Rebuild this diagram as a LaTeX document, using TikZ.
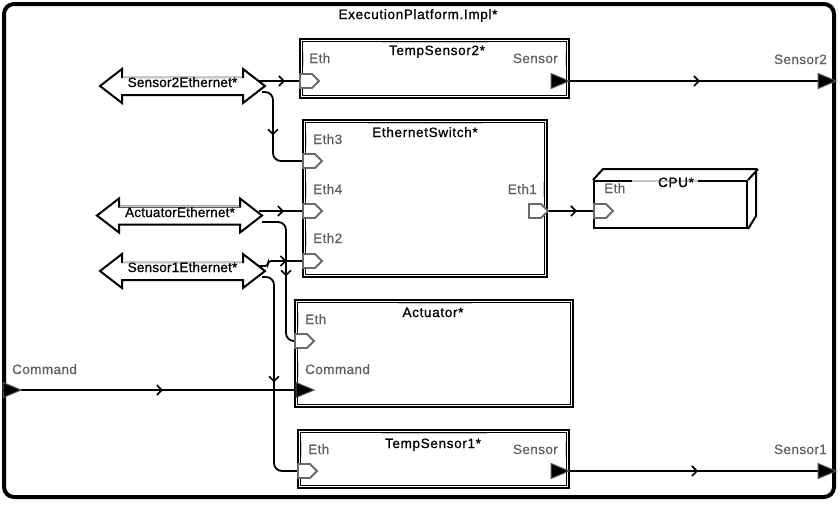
\documentclass[tikz,border=0pt]{standalone}
\usepackage{fontspec}
\setmainfont{Liberation Sans}
\newfontfamily\tfont[FakeBold=0.9,LetterSpace=5]{Liberation Sans}
\newfontfamily\bfont[FakeBold=0.9,LetterSpace=1.5]{Liberation Sans}
\newfontfamily\lfont[FakeBold=0.5,LetterSpace=3]{Liberation Sans}
\usetikzlibrary{arrows.meta,decorations.markings}
\definecolor{lblgray}{HTML}{5F5F5F}
\definecolor{portgray}{HTML}{6A6A6A}
\definecolor{hlgray}{HTML}{C8C8C8}
\definecolor{trigray}{HTML}{555555}
\tikzset{
 frame/.style={draw, line width=4pt, rounded corners=10pt, inner sep=0pt},
 compbox/.style={draw, line width=2.2pt, fill=white, inner sep=0pt},
 innerln/.style={line width=1.2pt},
 ttl/.style={font=\fontsize{13.5}{15}\tfont, text=black, inner sep=0pt, anchor=base},
 blbl/.style={font=\fontsize{13.5}{15}\bfont, text=black, inner sep=0pt, anchor=base},
 plbl/.style={font=\fontsize{13.5}{15}\lfont, text=lblgray, inner sep=0pt},
 ethport/.style={draw=portgray, line width=1.8pt, fill=white, line join=miter},
 outport/.style={fill=black, draw=trigray, line width=1pt, line join=miter},
 conn/.style={line width=1.8pt, rounded corners=8pt},
 busst/.style={draw, line width=2pt, fill=white, line join=miter},
 hl/.style={draw=hlgray, line width=1.6pt},
 midarr/.style={postaction={decorate}, decoration={markings, mark=at position #1 with {\arrow{Straight Barb[length=5pt,width=10pt,line width=1.6pt]}}}},
 ethp/.pic={\draw[ethport] (0,-7) -- (12,-7) -- (19,0) -- (12,7) -- (0,7) -- cycle;},
 ethpin/.pic={\draw[ethport] (-19,-7) -- (-7,-7) -- (0,0) -- (-7,7) -- (-19,7) -- cycle;},
 trip/.pic={\draw[outport] (-18,-7.5) -- (0,0) -- (-18,7.5) -- cycle;},
 busarrow/.pic={\draw[busst] (0,0) -- (22,-17) -- (22,-9) -- (143,-9) -- (143,-17) -- (165,0) -- (143,17) -- (143,9) -- (22,9) -- (22,17) -- cycle;
   \draw[hl] (23,-9) -- (142,-9);}
}
\begin{document}
\begin{tikzpicture}[x=1pt,y=-1pt]
\useasboundingbox (0,0) rectangle (840,504);
\fill[white] (0,0) rectangle (840,504);

% platform frame
\node[frame, minimum width=830pt, minimum height=493pt] (plat) at (419,250.5) {};
\node[ttl] (platt) at (418,19) {ExecutionPlatform.Impl*};

% ---------- components ----------
% TempSensor2
\node[compbox, minimum width=269pt, minimum height=59pt] (ts2) at (434.5,68.5) {};
\draw[innerln] ([shift={(3.5,3.5)}]ts2.north west) rectangle ([shift={(-3.5,-3.5)}]ts2.south east);
\draw[hl] (382,42.5) -- (488,42.5);
\draw[hl] (303.5,52) -- (303.5,66);
\draw[hl] (565.5,52) -- (565.5,66);
\node[ttl] (ts2t) at (437,55) {TempSensor2*};
\node[plbl, anchor=base west] (ts2el) at (309,63) {Eth};
\node[plbl, anchor=base east] (ts2sl) at (558,63) {Sensor};

% EthernetSwitch
\node[compbox, minimum width=244pt, minimum height=157pt] (sw) at (425,198.5) {};
\draw[innerln] ([shift={(3.5,3.5)}]sw.north west) rectangle ([shift={(-3.5,-3.5)}]sw.south east);
\draw[hl] (368,123.5) -- (483,123.5);
\draw[hl] (306.5,132) -- (306.5,147);
\draw[hl] (306.5,182) -- (306.5,197);
\draw[hl] (306.5,231) -- (306.5,246);
\draw[hl] (543.5,182) -- (543.5,197);
\node[ttl] (swt) at (425,137) {EthernetSwitch*};
\node[plbl, anchor=base west] (sw3l) at (313,144) {Eth3};
\node[plbl, anchor=base west] (sw4l) at (313,194) {Eth4};
\node[plbl, anchor=base west] (sw2l) at (313,243) {Eth2};
\node[plbl, anchor=base east] (sw1l) at (537,194) {Eth1};

% CPU
\node[compbox, line width=2pt, minimum width=153pt, minimum height=47pt] (cpu) at (670.5,204.5) {};
\draw[line width=2pt, line join=miter] (cpu.north west) -- ++(10,-11) -- ++(153,0) -- ++(0,47) -- (cpu.south east);
\draw[line width=2pt] (cpu.north east) -- ++(10,-11);
\draw[hl] (632,181) -- (698,181);
\node[ttl] (cput) at (676,187) {CPU*};
\node[plbl, anchor=base west] (cpuel) at (604,193) {Eth};

% Actuator
\node[compbox, minimum width=278pt, minimum height=107pt] (act) at (434,353.5) {};
\draw[innerln] ([shift={(3.5,3.5)}]act.north west) rectangle ([shift={(-3.5,-3.5)}]act.south east);
\draw[hl] (398,303.5) -- (472,303.5);
\draw[hl] (298.5,312) -- (298.5,327);
\draw[hl] (298.5,362) -- (298.5,377);
\node[ttl] (actt) at (433,317) {Actuator*};
\node[plbl, anchor=base west] (actel) at (305,324) {Eth};
\node[plbl, anchor=base west] (actcl) at (305,374) {Command};

% TempSensor1
\node[compbox, minimum width=271pt, minimum height=58pt] (ts1) at (433.5,459) {};
\draw[innerln] ([shift={(3.5,3.5)}]ts1.north west) rectangle ([shift={(-3.5,-3.5)}]ts1.south east);
\draw[hl] (382,433.5) -- (487,433.5);
\draw[hl] (301.5,442) -- (301.5,457);
\draw[hl] (565.5,442) -- (565.5,457);
\node[ttl] (ts1t) at (433,448) {TempSensor1*};
\node[plbl, anchor=base west] (ts1el) at (308,454) {Eth};
\node[plbl, anchor=base east] (ts1sl) at (558,454) {Sensor};

% external port labels
\node[plbl, anchor=base east] (s2xl) at (827,64) {Sensor2};
\node[plbl, anchor=base east] (s1xl) at (827,454) {Sensor1};
\node[plbl, anchor=base west] (cmdxl) at (12,374) {Command};

% ---------- bus accesses ----------
\pic at (100,86) {busarrow};
\node[blbl] (s2bus) at (182.5,87) {Sensor2Ethernet*};
\pic at (97,215.5) {busarrow};
\node[blbl] (actbus) at (180,217) {ActuatorEthernet*};
\pic at (100,271) {busarrow};
\node[blbl] (s1bus) at (182.5,272) {Sensor1Ethernet*};

\coordinate (s2bA) at (258,81);
\coordinate (s2bB) at (262,92);
\coordinate (acbA) at (259,211);
\coordinate (acbB) at (262,222);
\coordinate (s1bA) at (259,266);
\coordinate (s1bB) at (262,277);

% ---------- port connection points ----------
\coordinate (ts2eth) at (300,81);
\coordinate (ts2sen) at (569,81);
\coordinate (s2ext) at (836,81);
\coordinate (sweth3) at (303,161);
\coordinate (sweth4) at (303,211);
\coordinate (sweth2) at (303,261);
\coordinate (sweth1) at (548,211);
\coordinate (cpueth) at (594,211);
\coordinate (acteth) at (295,341);
\coordinate (actcmd) at (314,390);
\coordinate (cmdext) at (21,390);
\coordinate (ts1eth) at (298,471);
\coordinate (ts1sen) at (569,471);
\coordinate (s1ext) at (836,471);

% ---------- connectors ----------
\draw[conn, midarr=27pt] (s2bA) -- (ts2eth);
\draw[conn, midarr=51pt] (s2bB) -| (273,161) -- (sweth3);
\draw[conn, midarr=25pt] (acbA) -- (sweth4);
\draw[conn, midarr=75pt] (acbB) -| (286,341) -- (acteth);
\draw[conn, rounded corners=3pt, midarr=32pt] (s1bA) -| (268,261) -- (sweth2);
\draw[conn, midarr=114pt] (s1bB) -| (274,471) -- (ts1eth);
\draw[conn, midarr=142pt] (cmdext) -- ([xshift=-18pt]actcmd);
\draw[conn, midarr=131pt] (ts2sen) -- ([xshift=-18pt]s2ext);
\draw[conn, midarr=129pt] (ts1sen) -- ([xshift=-18pt]s1ext);
\draw[conn, midarr=29pt] (sweth1) -- (cpueth);

% ---------- ports ----------
\pic at (ts2eth) {ethp};
\pic at (ts2sen) {trip};
\pic at (s2ext) {trip};
\pic at (sweth3) {ethp};
\pic at (sweth4) {ethp};
\pic at (sweth2) {ethp};
\pic at (sweth1) {ethpin};
\pic at (cpueth) {ethp};
\pic at (acteth) {ethp};
\pic at (actcmd) {trip};
\pic at (cmdext) {trip};
\pic at (ts1eth) {ethp};
\pic at (ts1sen) {trip};
\pic at (s1ext) {trip};
\end{tikzpicture}
\end{document}
